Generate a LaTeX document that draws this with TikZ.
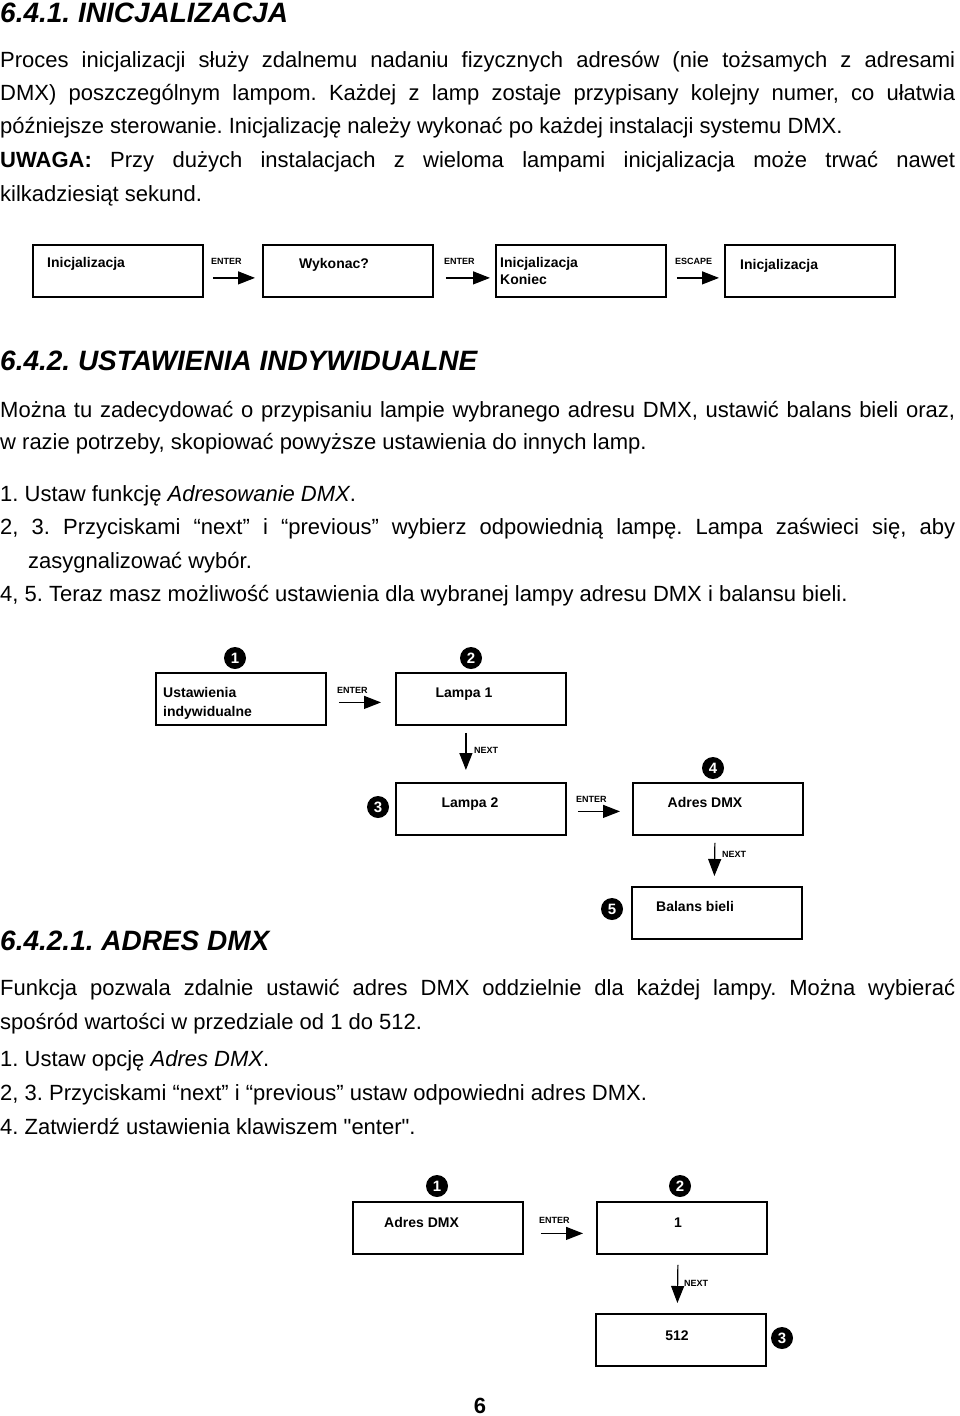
\documentclass[tikz,border=0pt]{standalone}
\usepackage{fontspec}
\setmainfont{Liberation Sans}[Ligatures=TeXOff]
\usetikzlibrary{arrows.meta}
\tikzset{
  txt/.style={anchor=base west, inner sep=0pt, font=\fontsize{22}{26}\selectfont},
  head/.style={anchor=base west, inner sep=0pt, font=\bfseries\itshape\fontsize{28}{30}\selectfont},
  box/.style={draw, line width=1.8pt, minimum width=170pt, minimum height=52pt, inner sep=0pt, anchor=north west},
  btxt/.style={anchor=base west, inner sep=0pt, font=\bfseries\fontsize{14}{17}\selectfont},
  btxtc/.style={anchor=base, inner sep=0pt, font=\bfseries\fontsize{14}{17}\selectfont},
  key/.style={anchor=base west, inner sep=0pt, font=\bfseries\fontsize{9}{10}\selectfont},
  arr/.style={line width=1.2pt, -{Triangle[length=17pt,width=13pt]}},
  num/.style={circle, fill=black, text=white, inner sep=0pt, minimum size=22pt, font=\bfseries\fontsize{15}{15}\selectfont}
}
\newcommand{\jline}[1]{\makebox[955pt][s]{#1}}
\frenchspacing
\begin{document}
\frenchspacing
\begin{tikzpicture}[x=1pt,y=-1pt]
\fill[white] (0,0) rectangle (960,1416);
\useasboundingbox (0,0) rectangle (960,1416);

% ---------- section 6.4.1 ----------
\node[head] (h1) at (0,22) {6.4.1. INICJALIZACJA};
\node[txt] (p1a) at (0,67) {\jline{Proces inicjalizacji służy zdalnemu nadaniu fizycznych adresów (nie tożsamych z adresami}};
\node[txt] (p1b) at (0,100) {\jline{DMX) poszczególnym lampom. Każdej z lamp zostaje przypisany kolejny numer, co ułatwia}};
\node[txt] (p1c) at (0,133) {późniejsze sterowanie. Inicjalizację należy wykonać po każdej instalacji systemu DMX.};
\node[txt] (p1d) at (0,167) {\jline{\textbf{UWAGA:} Przy dużych instalacjach z wieloma lampami inicjalizacja może trwać nawet}};
\node[txt] (p1e) at (0,201) {kilkadziesiąt sekund.};

% flow 1
\node[box] (a1) at (32,244) {};
\node[box] (a2) at (262,244) {};
\node[box] (a3) at (495,244) {};
\node[box] (a4) at (724,244) {};
\node[btxt] (ta1) at (47,267) {Inicjalizacja};
\node[btxt] (ta2) at (299,268) {Wykonac?};
\node[btxt] (ta3a) at (500,267) {Inicjalizacja};
\node[btxt] (ta3b) at (500,284) {Koniec};
\node[btxt] (ta4) at (740,269) {Inicjalizacja};
\draw[arr] ([shift={(9,7)}]a1.east) -- ([shift={(-7,7)}]a2.west);
\draw[arr] ([shift={(12,7)}]a2.east) -- ([shift={(-5,7)}]a3.west);
\draw[arr] ([shift={(10,7)}]a3.east) -- ([shift={(-5,7)}]a4.west);
\node[key] (ka1) at (211,264) {ENTER};
\node[key] (ka2) at (444,264) {ENTER};
\node[key] (ka3) at (675,264) {ESCAPE};

% ---------- section 6.4.2 ----------
\node[head] (h2) at (0,370) {6.4.2. USTAWIENIA INDYWIDUALNE};
\node[txt] (p2a) at (0,417) {\jline{Można tu zadecydować o przypisaniu lampie wybranego adresu DMX, ustawić balans bieli oraz,}};
\node[txt] (p2b) at (0,449) {w razie potrzeby, skopiować powyższe ustawienia do innych lamp.};
\node[txt] (p2c) at (0,501) {1. Ustaw funkcję \textit{Adresowanie DMX}.};
\node[txt] (p2d) at (0,534) {\jline{2, 3. Przyciskami “next” i “previous” wybierz odpowiednią lampę. Lampa zaświeci się, aby}};
\node[txt] (p2e) at (28,568) {zasygnalizować wybór.};
\node[txt] (p2f) at (0,601) {4, 5. Teraz masz możliwość ustawienia dla wybranej lampy adresu DMX i balansu bieli.};

% flow 2
\node[box] (bA) at (155,672) {};
\node[box] (bB) at (395,672) {};
\node[box] (bC) at (395,782) {};
\node[box] (bD) at (632,782) {};
\node[box] (bE) at (631,886) {};
\node[btxt] (tAa) at (163,697) {Ustawienia};
\node[btxt] (tAb) at (163,716) {indywidualne};
\node[btxtc] (tB) at (464,697) {Lampa 1};
\node[btxtc] (tC) at (470,807) {Lampa 2};
\node[btxtc] (tD) at (705,807) {Adres DMX};
\node[btxt] (tE) at (656,911) {Balans bieli};
\draw[arr] ([shift={(12,3.5)}]bA.east) -- ([shift={(-14,3.5)}]bB.west);
\draw[arr] ([shift={(-15,7)}]bB.south) -- ([shift={(-15,-12)}]bC.north);
\draw[arr] ([shift={(11,2.5)}]bC.east) -- ([shift={(-12,2.5)}]bD.west);
\draw[arr] ([shift={(-3,7)}]bD.south) -- ([shift={(-2.5,-10)}]bE.north);
\node[key] (kb1) at (337,693) {ENTER};
\node[key] (kb2) at (474,753) {NEXT};
\node[key] (kb3) at (576,802) {ENTER};
\node[key] (kb4) at (722,857) {NEXT};
\node[num] (n1) at (235,658) {1};
\node[num] (n2) at (471,658) {2};
\node[num] (n3) at (378,807) {3};
\node[num] (n4) at (713,768) {4};
\node[num] (n5) at (612,909) {5};

% ---------- section 6.4.2.1 ----------
\node[head] (h3) at (0,950) {6.4.2.1. ADRES DMX};
\node[txt] (p3a) at (0,995) {\jline{Funkcja pozwala zdalnie ustawić adres DMX oddzielnie dla każdej lampy. Można wybierać}};
\node[txt] (p3b) at (0,1029) {spośród wartości w przedziale od 1 do 512.};
\node[txt] (p3c) at (0,1066) {1. Ustaw opcję \textit{Adres DMX}.};
\node[txt] (p3d) at (0,1100) {2, 3. Przyciskami “next” i “previous” ustaw odpowiedni adres DMX.};
\node[txt] (p3e) at (0,1134) {4. Zatwierdź ustawienia klawiszem "enter".};

% flow 3
\node[box] (cF) at (352,1201) {};
\node[box] (cG) at (596,1201) {};
\node[box] (cH) at (595,1313) {};
\node[btxt] (tF) at (384,1227) {Adres DMX};
\node[btxtc] (tG) at (678,1227) {1};
\node[btxtc] (tH) at (677,1340) {512};
\draw[arr] ([shift={(17,5.5)}]cF.east) -- ([shift={(-13,5.5)}]cG.west);
\draw[arr] ([shift={(-4,10)}]cG.south) -- ([shift={(-3.5,-10)}]cH.north);
\node[key] (kc1) at (539,1223) {ENTER};
\node[key] (kc2) at (684,1286) {NEXT};
\node[num] (m1) at (437,1186) {1};
\node[num] (m2) at (680,1186) {2};
\node[num] (m3) at (782,1338) {3};

% page number
\node[anchor=base, inner sep=0pt, font=\bfseries\fontsize{22}{24}\selectfont] (pg) at (480,1413) {6};
\end{tikzpicture}
\end{document}
